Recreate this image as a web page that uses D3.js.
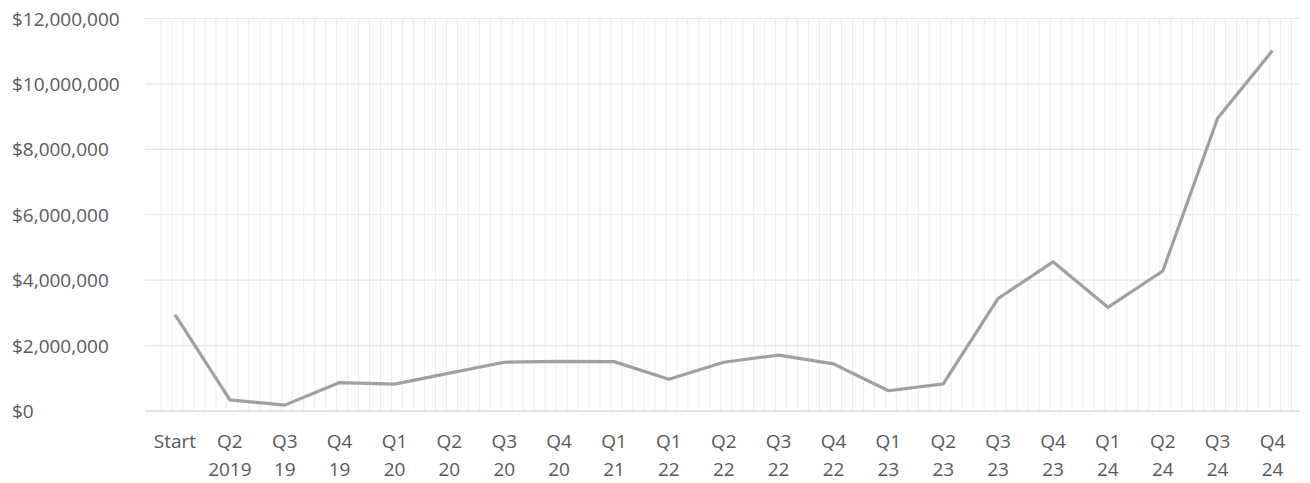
<!DOCTYPE html>
<html>
<head>
<meta charset="utf-8">
<script src="https://cdn.jsdelivr.net/npm/d3@7"></script>
<style>
  html, body { margin: 0; padding: 0; background: #ffffff; }
  svg { display: block; }
</style>
</head>
<body>
<svg id="chart" width="1310" height="483"></svg>
<script>
// Quarter labels (two lines each) and the balance at each quarter end
const quarterTop = ["Start", "Q2", "Q3", "Q4", "Q1", "Q2", "Q3", "Q4", "Q1", "Q1", "Q2",
                    "Q3", "Q4", "Q1", "Q2", "Q3", "Q4", "Q1", "Q2", "Q3", "Q4"];
const quarterBottom = ["", "2019", "19", "19", "20", "20", "20", "20", "21", "22", "22",
                       "22", "22", "23", "23", "23", "23", "24", "24", "24", "24"];
const balance = [2950000, 340000, 180000, 870000, 820000, 1160000, 1490000, 1520000, 1510000,
                 970000, 1490000, 1710000, 1440000, 620000, 830000, 3440000, 4560000, 3170000,
                 4280000, 8950000, 11020000];
const yTicks = [0, 2000000, 4000000, 6000000, 8000000, 10000000, 12000000];

const svg = d3.select("#chart");
const plot = { left: 147, right: 1300, top: 18.5, bottom: 411 };
const font = "'Open Sans', 'Segoe UI', sans-serif";
const textColor = "#595959";

const idx = d3.range(balance.length);
const x = d3.scalePoint().domain(idx).range([175, 1272.5]);
const step = x.step();
const y = d3.scaleLinear().domain([0, 12000000]).range([plot.bottom, plot.top]);

// Minor vertical gridlines: five per quarter
const minorCount = Math.round((plot.right - plot.left) / (step / 5));
const minorX = d3.range(1, minorCount).map(j => x(0) - step / 2 + 2.5 + j * step / 5)
  .filter(v => v < plot.right - 3);
svg.append("g")
  .selectAll("line").data(minorX).join("line")
  .attr("x1", d => d).attr("x2", d => d)
  .attr("y1", y(12000000)).attr("y2", plot.bottom)
  .attr("stroke", "#ececec").attr("stroke-width", 1);

// Major horizontal gridlines
svg.append("g")
  .selectAll("line").data(yTicks.filter(v => v > 0)).join("line")
  .attr("x1", plot.left - 2).attr("x2", plot.right)
  .attr("y1", d => y(d)).attr("y2", d => y(d))
  .attr("stroke", "#e6e6e6").attr("stroke-width", 1.2);

// Baseline
svg.append("line")
  .attr("x1", plot.left - 2).attr("x2", plot.right)
  .attr("y1", y(0)).attr("y2", y(0))
  .attr("stroke", "#d9d9d9").attr("stroke-width", 1.5);

// Y-axis labels, left aligned
const fmt = d3.format("$,.0f");
svg.append("g")
  .selectAll("text").data(yTicks).join("text")
  .attr("x", 12).attr("y", d => y(d) + 7)
  .attr("font-family", font).attr("font-size", 19)
  .attr("fill", textColor)
  .text(d => fmt(d));

// X-axis labels
const xl = svg.append("g").attr("font-family", font).attr("font-size", 19)
  .attr("fill", textColor).attr("text-anchor", "middle");
xl.selectAll("text.top").data(idx).join("text").attr("class", "top")
  .attr("x", d => x(d)).attr("y", 448).text(d => quarterTop[d]);
xl.selectAll("text.bot").data(idx).join("text").attr("class", "bot")
  .attr("x", d => x(d)).attr("y", 476).text(d => quarterBottom[d]);

// Balance line
const line = d3.line().x((d, i) => x(i)).y(d => y(d));
svg.append("path")
  .datum(balance)
  .attr("d", line)
  .attr("fill", "none")
  .attr("stroke", "#a0a0a0")
  .attr("stroke-width", 3.2)
  .attr("stroke-linejoin", "round")
  .attr("stroke-linecap", "butt");
</script>
</body>
</html>
